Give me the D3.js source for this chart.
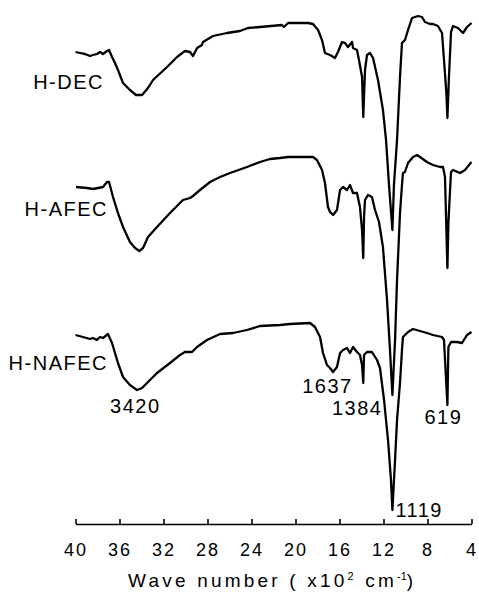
<!DOCTYPE html>
<meta charset="utf-8">
<style>
 body { margin: 0; background: #fff; }
 svg { font-family: "Liberation Sans", Arial, sans-serif; }
</style>
<script src="https://d3js.org/d3.v7.min.js"></script>
<svg width="479" height="593"></svg>
<script>
const svg = d3.select('svg');

// wave number (x10^2 cm-1) and offset transmittance (a.u.)
const decWn = [40.0,39.59,39.14,38.68,38.41,38.05,37.77,37.5,37.14,36.95,36.68,36.41,36.14,35.68,35.05,34.5,33.95,33.41,32.95,31.68,30.77,30.05,29.59,29.32,28.95,28.5,28.41,27.5,26.23,25.05,24.32,23.23,21.23,21.05,20.68,18.86,18.41,17.95,17.59,17.32,16.86,16.41,16.14,15.77,15.5,15.23,14.86,14.77,14.41,14.23,13.95,13.84,13.68,13.5,13.23,12.95,12.5,12.05,11.77,11.5,11.19,11.05,10.77,10.5,10.32,10.05,9.77,9.41,8.86,8.5,8.23,7.77,7.5,7.05,6.68,6.5,6.28,6.19,6.05,5.86,5.68,5.23,4.77,4.41,4.0];
const decT = [94.4,94.2,94.0,93.6,93.8,94.0,94.4,94.0,94.6,94.8,93.4,92.2,90.8,88.2,86.8,85.8,85.8,87.2,88.8,91.4,93.4,94.6,94.4,93.6,95.2,95.8,96.4,97.6,98.2,98.6,99.2,99.4,99.8,99.4,100.2,100.2,100.0,98.8,96.8,94.2,93.8,93.2,94.4,96.4,96.2,95.4,96.4,95.2,94.8,92.8,89.4,81.4,90.8,93.8,94.2,93.2,88.8,82.8,76.8,67.8,58.8,67.8,76.8,89.4,96.2,96.8,98.8,101.2,101.6,101.4,100.4,100.0,100.0,99.6,98.2,92.8,86.0,81.2,89.4,98.4,99.6,99.2,98.2,99.4,100.2];

const afecWn = [39.95,38.95,38.41,37.95,37.5,37.14,36.95,36.59,36.14,35.68,35.05,34.59,34.2,33.86,33.41,32.59,31.41,30.23,29.59,29.32,28.68,27.77,26.86,25.95,24.41,23.23,22.32,21.41,20.68,18.41,18.05,17.59,17.32,17.05,16.86,16.59,16.23,15.95,15.68,15.32,15.05,14.77,14.41,14.14,13.95,13.84,13.77,13.68,13.41,13.05,12.77,12.41,12.05,11.68,11.41,11.19,10.95,10.77,10.5,10.32,10.23,10.05,9.77,9.32,8.95,8.68,8.05,7.5,6.86,6.59,6.41,6.19,6.1,5.95,5.86,5.68,5.05,4.59,4.0];
const afecT = [67.4,67.2,67.0,67.2,67.4,68.4,68.4,65.4,62.2,59.4,56.4,55.2,54.6,55.2,57.4,59.4,62.2,64.8,65.2,65.6,66.8,68.4,69.4,70.2,71.4,72.4,73.0,73.2,73.4,73.4,72.8,70.8,68.2,63.4,62.4,61.8,62.8,66.8,67.4,66.8,67.8,66.2,66.2,63.4,58.8,53.2,61.4,64.8,65.8,65.4,62.8,60.4,55.4,44.8,34.8,25.8,36.8,48.8,62.2,67.8,70.2,70.4,72.2,73.4,73.8,73.4,72.4,71.8,71.4,71.4,69.4,51.2,60.2,66.8,70.4,70.8,70.2,70.8,72.4];

const nafecWn = [40.0,39.32,38.68,38.41,38.05,37.77,37.5,37.05,36.68,36.41,36.14,35.68,35.05,34.41,33.95,33.41,32.59,31.41,30.5,30.05,29.41,28.95,28.05,26.86,25.68,24.41,23.23,21.41,20.5,18.68,18.23,17.77,17.5,17.14,16.86,16.59,16.23,15.95,15.68,15.32,15.05,14.77,14.41,14.14,13.95,13.84,13.77,13.5,13.05,12.59,12.32,11.95,11.59,11.32,11.19,10.95,10.77,10.5,10.32,10.23,9.77,9.32,8.68,8.05,7.5,6.68,6.5,6.19,6.1,5.86,5.32,4.86,4.41,4.0];
const nafecT = [37.8,37.4,37.0,37.2,36.8,37.4,37.2,38.0,36.2,34.2,32.2,29.4,27.8,26.8,27.2,28.4,30.2,32.2,33.8,34.4,34.4,35.4,36.8,38.0,38.2,38.8,39.6,39.8,40.0,40.2,39.4,37.4,34.2,31.8,31.2,30.4,31.4,34.2,34.8,35.2,34.2,35.4,34.4,33.8,31.8,28.2,33.8,34.4,34.4,32.8,31.2,24.8,16.8,8.8,2.8,12.8,20.8,28.2,34.8,37.4,38.4,39.0,38.6,38.2,37.8,37.4,36.8,23.8,35.4,36.4,36.4,36.2,37.8,38.4];

const seriesNames = ['H-DEC', 'H-AFEC', 'H-NAFEC'];
const xTicks = [40, 36, 32, 28, 24, 20, 16, 12, 8, 4];
const peakLabels = ['3420', '1637', '1384', '1119', '619'];
const peakWn = [34.20, 16.37, 13.84, 11.19, 6.19];

const x = d3.scaleLinear().domain([40, 4]).range([75.5, 471.5]);
const y = d3.scaleLinear().domain([0, 100]).range([524, 24]);

const line = d3.line()
	.x(d => x(d[0]))
	.y(d => y(d[1]));

const series = [
	d3.zip(decWn, decT),
	d3.zip(afecWn, afecT),
	d3.zip(nafecWn, nafecT)
];

svg.selectAll('.trace')
	.data(series)
	.enter().append('path')
	.attr('class', 'trace')
	.attr('d', line)
	.attr('fill', 'none')
	.attr('stroke', '#000')
	.attr('stroke-width', 2.3)
	.attr('stroke-linejoin', 'round');

// series names, right aligned left of the traces
const nameX = [104, 108, 108];
const nameY = [89, 216, 370];
svg.selectAll('.name')
	.data(seriesNames)
	.enter().append('text')
	.attr('class', 'name')
	.attr('x', (d, i) => nameX[i])
	.attr('y', (d, i) => nameY[i])
	.attr('text-anchor', 'end')
	.style('font-size', '20px')
	.style('letter-spacing', '1.5px')
	.text(d => d);

// peak labels next to the bottom trace
const peakDx = [-4, -8, -6, 3, -4];
const peakY = [413, 393, 415, 517, 424];
const peakAnchor = ['middle', 'middle', 'middle', 'start', 'middle'];
svg.selectAll('.peak')
	.data(peakLabels)
	.enter().append('text')
	.attr('class', 'peak')
	.attr('x', (d, i) => x(peakWn[i]) + peakDx[i])
	.attr('y', (d, i) => peakY[i])
	.attr('text-anchor', (d, i) => peakAnchor[i])
	.style('font-size', '20px')
	.style('letter-spacing', '1.5px')
	.text(d => d);

const axis = svg.append('g')
	.attr('transform', 'translate(0,524)')
	.call(d3.axisBottom(x)
		.tickValues(xTicks)
		.tickFormat(d3.format('d'))
		.tickSizeInner(-5)
		.tickSizeOuter(0)
		.tickPadding(19));

axis.select('.domain').attr('stroke', '#000').attr('stroke-width', 1.6);
axis.selectAll('.tick line').attr('stroke', '#000').attr('stroke-width', 1.6);
axis.selectAll('.tick text')
	.attr('fill', '#000')
	.style('font-family', '"Liberation Sans", Arial, sans-serif')
	.style('font-size', '18px')
	.style('letter-spacing', '2px');

const title = svg.append('text')
	.attr('x', 128)
	.attr('y', 587)
	.style('font-size', '19px')
	.style('letter-spacing', '3.2px');
title.append('tspan').text('Wave number ( x10');
title.append('tspan').attr('dy', -7).style('font-size', '11px').text('2');
title.append('tspan').attr('dy', 7).text(' cm');
title.append('tspan').attr('dy', -7).style('font-size', '11px').style('letter-spacing', '0px').text('-1');
title.append('tspan').attr('dy', 7).text(')');
</script>
